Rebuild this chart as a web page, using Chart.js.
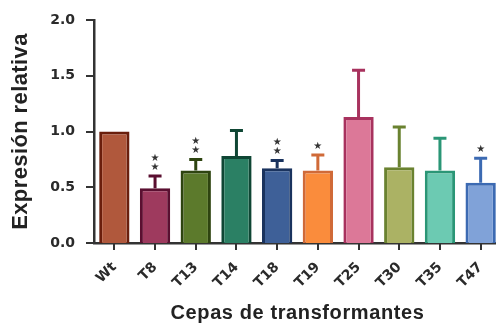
<!DOCTYPE html>
<html>
<head>
<meta charset="utf-8">
<script src="https://cdn.jsdelivr.net/npm/chart.js@4/dist/chart.umd.min.js"></script>
<style>
  html, body { margin: 0; padding: 0; background: #fff; overflow: hidden; }
  #wrap { width: 510px; height: 325px; }
</style>
</head>
<body>
<div id="wrap"><canvas id="c" width="510" height="325"></canvas></div>
<script>
// Relative expression per transformant strain (mean and upper error)
const strains = ['Wt', 'T8', 'T13', 'T14', 'T18', 'T19', 'T25', 'T30', 'T35', 'T47'];
const meanExpr = [1.00, 0.49, 0.65, 0.78, 0.67, 0.65, 1.13, 0.68, 0.65, 0.54];
const errExpr  = [0.00, 0.11, 0.10, 0.23, 0.07, 0.14, 0.42, 0.36, 0.29, 0.22];
// Number of significance stars above each bar
const sigStars = [0, 2, 2, 0, 2, 1, 0, 0, 0, 1];
const yTicks = [0.0, 0.5, 1.0, 1.5, 2.0];

const fillColors   = ['#b0583c', '#9e3a5e', '#5c7a2c', '#2b8064', '#3e6098', '#fa8c3c', '#dc7898', '#abb264', '#6ccab2', '#80a2d8'];
const borderColors = ['#6a1e0c', '#5a0f30', '#2e4410', '#0f4634', '#1a335e', '#d06a38', '#a8325e', '#6a8230', '#2a9676', '#3c6ab2'];

const AXIS = '#333333';

const errorBars = {
  id: 'errorBars',
  afterDatasetsDraw(chart) {
    const ctx = chart.ctx;
    const meta = chart.getDatasetMeta(0);
    const ys = chart.scales.y;
    ctx.save();
    meta.data.forEach((bar, i) => {
      const x = bar.x;
      const yBar = ys.getPixelForValue(meanExpr[i]);
      const yTop = ys.getPixelForValue(meanExpr[i] + errExpr[i]);
      if (errExpr[i] > 0) {
        ctx.strokeStyle = borderColors[i];
        ctx.lineWidth = 3;
        ctx.beginPath();
        ctx.moveTo(x, yBar);
        ctx.lineTo(x, yTop);
        ctx.moveTo(x - 6.5, yTop);
        ctx.lineTo(x + 6.5, yTop);
        ctx.stroke();
      }
      ctx.fillStyle = '#333';
      ctx.font = '10px "DejaVu Sans"';
      ctx.textAlign = 'center';
      ctx.textBaseline = 'middle';
      for (let k = 0; k < sigStars[i]; k++) {
        ctx.fillText('\u2605', x, yTop - 9 - k * 9);
      }
    });
    ctx.restore();
  }
};

// Outward tick marks on both axes, placed from the scales
const tickMarks = {
  id: 'tickMarks',
  afterDraw(chart) {
    const ctx = chart.ctx;
    const a = chart.chartArea;
    const xs = chart.scales.x, ys = chart.scales.y;
    ctx.save();
    ctx.strokeStyle = AXIS;
    ctx.lineWidth = 2;
    ctx.beginPath();
    yTicks.forEach(v => {
      const y = Math.round(ys.getPixelForValue(v));
      ctx.moveTo(a.left - 8, y);
      ctx.lineTo(a.left, y);
    });
    strains.forEach((s, i) => {
      const x = Math.round(xs.getPixelForValue(i));
      ctx.moveTo(x, a.bottom);
      ctx.lineTo(x, a.bottom + 7);
    });
    ctx.stroke();
    ctx.restore();
  }
};

const axisTitles = {
  id: 'axisTitles',
  afterDraw(chart) {
    const ctx = chart.ctx;
    const a = chart.chartArea;
    ctx.save();
    ctx.fillStyle = '#222';
    ctx.textAlign = 'center';
    ctx.textBaseline = 'middle';
    ctx.font = 'bold 20px "Liberation Sans", Arial, sans-serif';
    ctx.letterSpacing = '0.6px';
    ctx.fillText('Cepas de transformantes', (a.left + a.right) / 2, 313);
    ctx.translate(21, (a.top + a.bottom) / 2);
    ctx.rotate(-Math.PI / 2);
    ctx.font = 'bold 22px "Liberation Sans", Arial, sans-serif';
    ctx.letterSpacing = '0.4px';
    ctx.fillText('Expresión relativa', 0, 0);
    ctx.restore();
  }
};

new Chart(document.getElementById('c'), {
  type: 'bar',
  data: {
    labels: strains,
    datasets: [{
      data: meanExpr,
      backgroundColor: fillColors,
      borderColor: borderColors,
      borderWidth: 3,
      borderSkipped: 'start',
      barPercentage: 0.745,
      categoryPercentage: 1.0
    }]
  },
  options: {
    responsive: false,
    animation: false,
    devicePixelRatio: 1,
    layout: { padding: { top: 20, right: 9, left: 0, bottom: 0 } },
    plugins: { legend: { display: false }, tooltip: { enabled: false } },
    scales: {
      x: {
        afterFit(scale) { scale.height = 82; },
        grid: { display: false },
        border: { display: true, color: AXIS, width: 2.5 },
        ticks: {
          minRotation: 45, maxRotation: 45, padding: 8,
          color: '#2a2a2a',
          font: { family: '"DejaVu Sans", sans-serif', weight: 'bold', size: 14 }
        }
      },
      y: {
        min: 0, max: 2,
        afterFit(scale) { scale.width = 94; },
        afterBuildTicks(scale) { scale.ticks = yTicks.map(v => ({ value: v })); },
        grid: { display: false },
        border: { display: true, color: AXIS, width: 2.5 },
        ticks: {
          padding: 11,
          color: '#2a2a2a',
          font: { family: '"DejaVu Sans", sans-serif', weight: 'bold', size: 14 },
          callback: v => Number(v).toFixed(1)
        }
      }
    }
  },
  plugins: [errorBars, tickMarks, axisTitles]
});
</script>
</body>
</html>
